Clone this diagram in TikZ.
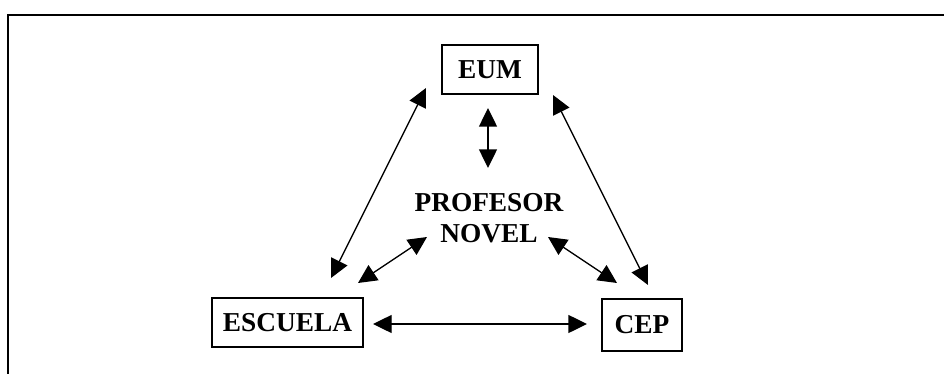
\documentclass[tikz,border=0pt]{standalone}
\usepackage{fontspec}
\setmainfont{Liberation Serif}
\usetikzlibrary{arrows.meta}
\begin{document}
\begin{tikzpicture}[x=0.75pt,y=-0.75pt,
  lbl/.style={font=\fontsize{20.5}{23}\selectfont\bfseries, inner sep=0pt, align=center},
  boxnode/.style={lbl, draw, line width=1pt},
  conn/.style={line width=1pt, {Triangle[length=14pt,width=13.5pt]}-{Triangle[length=14pt,width=13.5pt]}}]
\useasboundingbox (0,0) rectangle (944,374);
% outer frame (open at right and bottom)
\draw[line width=1.6pt] (8,374) -- (8,15) -- (944,15);
% nodes
\node[boxnode, minimum width=96*0.75pt, minimum height=49*0.75pt] (eum) at (490,69.5) {EUM};
\node[boxnode, minimum width=151*0.75pt, minimum height=49*0.75pt] (esc) at (287.5,322.5) {ESCUELA};
\node[boxnode, minimum width=80*0.75pt, minimum height=52*0.75pt] (cep) at (642,325) {CEP};
\node[lbl, text depth=0pt] (prof) at (489,218) {PROFESOR\\[0pt]NOVEL};
% connector ends
\coordinate (eumB) at (488,108);
\coordinate (profT) at (488,168);
\coordinate (eumL) at (426,88);
\coordinate (escT) at (331,278);
\coordinate (eumR) at (553,95);
\coordinate (cepT) at (648,285);
\coordinate (profL) at (427,237);
\coordinate (escR) at (358,283);
\coordinate (profR) at (548,237);
\coordinate (cepL) at (617,283);
\coordinate (escE) at (373,324);
\coordinate (cepW) at (587,324);
% connectors
\draw[conn] (eumB) -- (profT);
\draw[conn] (escT) -- (eumL);
\draw[conn] (eumR) -- (cepT);
\draw[conn] (escR) -- (profL);
\draw[conn] (profR) -- (cepL);
\draw[conn] (escE) -- (cepW);
\end{tikzpicture}
\end{document}
